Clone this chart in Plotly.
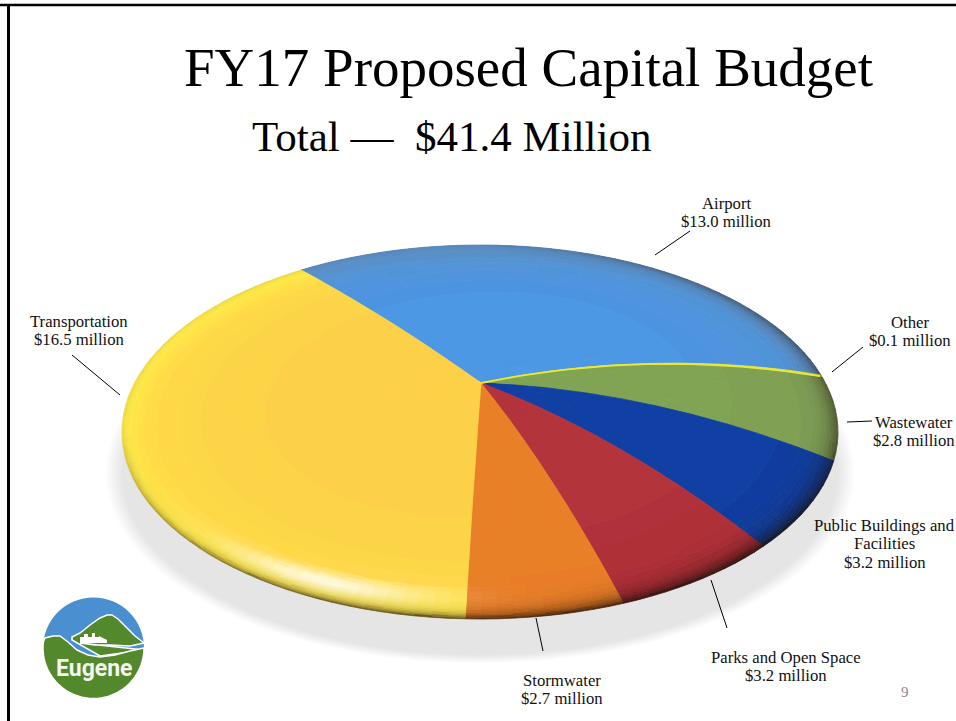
import numpy as np
import plotly.graph_objects as go

# ---------- data ----------
categories = ["Airport", "Other", "Wastewater", "Public Buildings and<br>Facilities",
              "Parks and Open Space", "Stormwater", "Transportation"]
values = [13.0, 0.1, 2.8, 3.2, 3.2, 2.7, 16.5]
inner_colors = ["#4a97e6", "#e8e83c", "#82a456", "#123fa5", "#b5343c", "#e98029", "#fcce48"]
outer_colors = ["#5c90c6", "#e8e83c", "#7b9a55", "#0e3c9c", "#a82a34", "#e67a24", "#ffe94a"]

label_x = [726, 910, 914, 884.5, 786, 562, 79]
label_y = [203, 322, 422, 525, 657, 680, 321]
leaders = [((655, 255), (690, 231)), ((832, 372), (863, 347)), ((847, 422), (872, 421)),
           ((711, 580), (727, 628)), ((536, 618), (543, 651)), ((72, 355), (120, 395))]

title = "FY17 Proposed Capital Budget"
subtitle = "Total \u2014\u00a0 $41.4 Million"

# ---------- projection of the tilted dish ----------
AX, AY = 481, 383      # apex
CX, CY = 480, 432      # rim ellipse centre
RA, RB = 358, 187
START = -30.0


def rim_angle(u):
    """u: degrees of true pie angle from first slice start"""
    ur = np.radians(u)
    return (START + u - 4.27 * (1 - np.cos(ur)) - 5.3 * np.sin(ur)
            + 2.5 * np.exp(-((u - 150) / 25) ** 2))


def rim_point(u):
    t = np.radians(rim_angle(u))
    return CX + RA * np.sin(t), CY - RB * np.cos(t), t


def project(u, r):
    rx, ry, t = rim_point(u)
    h = 8 + 8 * np.sin(t)
    return AX + r * (rx - AX), AY + r * (ry - AY) - h * 4 * r * (1 - r)


def hex2rgb(c):
    return np.array([int(c[i:i + 2], 16) for i in (1, 3, 5)], float)


def mix(a, b, k):
    return a + (b - a) * float(np.clip(k, 0, 1))


def shade(i, u, r):
    rx, ry, t = rim_point(u)
    d = (1 - r) * np.hypot(rx - AX, ry - AY)      # pixels inside the rim
    td = np.degrees(t) % 360
    glow = max(0.6 * r ** 3, np.exp(-max(d - 8, 0) / 26))
    c = mix(hex2rgb(inner_colors[i]), hex2rgb(outer_colors[i]), glow)
    hl = 0.85 * np.exp(-((td - 208) / 18) ** 2) * np.exp(-((d - 19) / 10) ** 2)
    c = mix(c, np.array([255, 255, 245.]), hl)
    thick = 4 + 6 * max(0.0, np.sin(t))
    dark = 0.08 + 0.72 * max(0.0, -np.cos(t)) + 0.4 * max(0.0, np.sin(t))
    c = mix(c, np.array([25, 12, 5.]), min(dark, 0.85) * np.exp(-d / thick))
    return tuple(int(round(v / 4) * 4) if v < 253 else 255 for v in c)


fig = go.Figure()

# soft shadow
for k in np.linspace(0, 1, 14):
    th = np.linspace(0, 2 * np.pi, 120)
    grow = 1 + 0.05 * (1 - k)
    g = int(255 - (255 - 229) * k)
    fig.add_trace(go.Scatter(x=480 + 358 * grow * np.cos(th), y=473 + 182 * grow * np.sin(th),
                             mode="lines", line=dict(width=0), fill="toself",
                             fillcolor=f"rgb({g},{g},{g})", hoverinfo="skip", showlegend=False))

# slices: cells grouped by colour so each colour is one trace
rings = [0, .1, .2, .3, .4, .5, .6, .7, .78, .84, .88] + list(np.arange(.89, 1.0001, .005))
fractions = np.array(values) / sum(values) * 360
edges = np.concatenate([[0], np.cumsum(fractions)])
groups = {}
for i, cat in enumerate(categories):
    n = max(1, int(np.ceil(fractions[i] / 2.5)))
    us = np.linspace(edges[i], edges[i + 1], n + 1)
    for s in range(n):
        for q in range(len(rings) - 2, -1, -1):
            r1, r2 = rings[q], rings[q + 1]
            ra = np.linspace(r1, r2, 6 if r1 < .88 else 2)
            ua = np.linspace(us[s], us[s + 1], 2)
            x1, y1 = project(np.full_like(ra, us[s]), ra)
            x2, y2 = project(ua, np.full_like(ua, r2))
            x3, y3 = project(np.full_like(ra, us[s + 1]), ra[::-1])
            x4, y4 = project(ua[::-1], np.full_like(ua, r1))
            col = shade(i, 0.5 * (us[s] + us[s + 1]), 0.5 * (r1 + r2))
            g = groups.setdefault(col, ([], []))
            g[0].extend(np.concatenate([x1, x2, x3, x4]).round(1).tolist() + [None])
            g[1].extend(np.concatenate([y1, y2, y3, y4]).round(1).tolist() + [None])
for col, (xs, ys) in groups.items():
    c = "rgb(%d,%d,%d)" % col
    fig.add_trace(go.Scatter(x=xs, y=ys, mode="lines", line=dict(width=0.8, color=c),
                             fill="toself", fillcolor=c, hoverinfo="skip", showlegend=False))

# the thin "Other" slice needs a stroke to stay visible
ro = np.linspace(0, 0.995, 40)
uo = np.full_like(ro, 0.5 * (edges[1] + edges[2]))
ox, oy = project(uo, ro)
fig.add_trace(go.Scatter(x=ox, y=oy, mode="lines", line=dict(width=1.8, color=inner_colors[1]),
                         hoverinfo="skip", showlegend=False))

# leader lines
for (a, b) in leaders:
    fig.add_trace(go.Scatter(x=[a[0], b[0]], y=[a[1], b[1]], mode="lines",
                             line=dict(color="black", width=1), hoverinfo="skip", showlegend=False))

SERIF = "Liberation Serif"
ann = []
for cat, v, x, y in zip(categories, values, label_x, label_y):
    lines = cat.split("<br>") + [f"${v:.1f} million"]
    for k, line in enumerate(lines):
        ann.append(dict(x=x, y=y + k * 18.8, text=line, showarrow=False,
                        xanchor="center", yanchor="middle",
                        font=dict(family=SERIF, size=16.7, color="#111")))
ann.append(dict(x=528, y=67, text=title, showarrow=False, font=dict(family=SERIF, size=55, color="black")))
ann.append(dict(x=451.5, y=136, text=subtitle, showarrow=False, font=dict(family=SERIF, size=43, color="black")))
ann.append(dict(x=905, y=692, text="9", showarrow=False, font=dict(family=SERIF, size=15, color="#888")))
ann.append(dict(x=94, y=668, text="<b>Eugene</b>", showarrow=False,
                font=dict(family="Roboto", size=23, color="#f4f7ee")))


# logo
def polypath(xs, ys):
    return "M" + "L".join(f"{a:.1f},{b:.1f}" for a, b in zip(xs, ys)) + "Z"


LX, LY, LR = 93.5, 648, 50.5
a = np.radians(np.linspace(0, 187, 50))  # lower arc, clockwise on screen
lx, ly = LX + LR * np.cos(a), LY + LR * np.sin(a)
ridge_x = [45, 53, 60, 68, 77, 88, 100, 115, 130, 144]
ridge_y = [638, 636, 636, 642, 650, 655, 657, 655, 651, 648]
mt_x = [72, 80, 90, 100, 107, 112, 118, 126, 135, 144, 130, 110, 95, 80]
mt_y = [637, 633, 625, 618, 615, 615, 619, 627, 636, 643, 646, 645, 645, 643]
sky_x = [80, 80, 84, 84, 88, 88, 92, 92, 95, 95, 99, 99, 107, 107]
sky_y = [643, 637, 637, 634, 634, 637, 637, 633, 633, 637, 637, 636, 640, 643]
white = dict(color="white", width=1.5)
shapes = [
    dict(type="circle", x0=LX - LR, x1=LX + LR, y0=LY - LR, y1=LY + LR, fillcolor="#4a90d0", line=dict(width=0)),
    dict(type="path", path=polypath(mt_x + [144, 100, 72], mt_y[:-1] + [643, 650, 656, 640]), fillcolor="#54882c", line=white),
    dict(type="path", path=polypath(sky_x, sky_y), fillcolor="white", line=dict(width=0)),
    dict(type="path", path=polypath(list(lx) + ridge_x, list(ly) + ridge_y), fillcolor="#54882c", line=white),
    # frame
    dict(type="line", x0=0, x1=956, y0=5, y1=5, line=dict(color="black", width=2.5)),
    dict(type="line", x0=8.5, x1=8.5, y0=4, y1=721, line=dict(color="black", width=3)),
]

fig.update_layout(width=956, height=721, margin=dict(l=0, r=0, t=0, b=0),
                  paper_bgcolor="white", plot_bgcolor="white", showlegend=False,
                  annotations=ann, shapes=shapes,
                  xaxis=dict(range=[0, 956], visible=False, fixedrange=True),
                  yaxis=dict(range=[721, 0], visible=False, fixedrange=True))
fig.write_html("out.html", config=dict(displayModeBar=False),
               post_script="document.body.style.margin='0';document.documentElement.style.overflow='hidden';")
